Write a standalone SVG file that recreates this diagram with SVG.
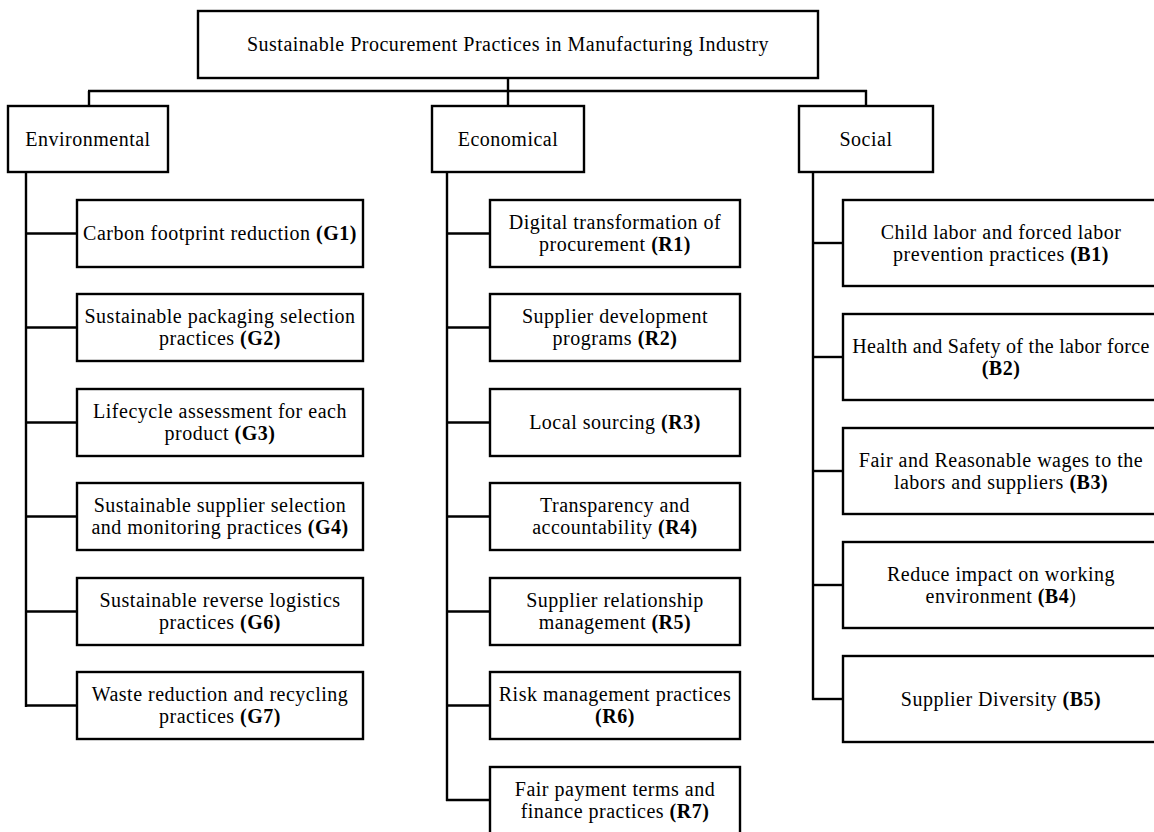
<svg xmlns="http://www.w3.org/2000/svg" width="1154" height="832" viewBox="0 0 1154 832">
<style>
rect{fill:#fff;stroke:#000;stroke-width:2.4}
.c line{stroke:#000;stroke-width:2.4}
text{font-family:"Liberation Serif","Times New Roman",serif;font-size:20px;fill:#000;text-anchor:middle;letter-spacing:0.5px}
.b{font-weight:bold}
</style>
<rect x="0" y="0" width="1154" height="832" style="stroke:none"/>
<g class="c" id="connectors">
<line x1="508" y1="78" x2="508" y2="91"/>
<line x1="88" y1="91" x2="867" y2="91"/>
<line x1="89" y1="91" x2="89" y2="106"/>
<line x1="508" y1="91" x2="508" y2="106"/>
<line x1="866" y1="90" x2="866" y2="106"/>
<line x1="26" y1="172" x2="26" y2="707"/>
<line x1="25" y1="233.5" x2="77" y2="233.5"/>
<line x1="25" y1="327.5" x2="77" y2="327.5"/>
<line x1="25" y1="422.5" x2="77" y2="422.5"/>
<line x1="25" y1="516.5" x2="77" y2="516.5"/>
<line x1="25" y1="611.5" x2="77" y2="611.5"/>
<line x1="25" y1="705.5" x2="77" y2="705.5"/>
<line x1="447" y1="172" x2="447" y2="801"/>
<line x1="446" y1="233.5" x2="490" y2="233.5"/>
<line x1="446" y1="327.5" x2="490" y2="327.5"/>
<line x1="446" y1="422.5" x2="490" y2="422.5"/>
<line x1="446" y1="516.5" x2="490" y2="516.5"/>
<line x1="446" y1="611.5" x2="490" y2="611.5"/>
<line x1="446" y1="705.5" x2="490" y2="705.5"/>
<line x1="446" y1="800" x2="490" y2="800"/>
<line x1="813" y1="172" x2="813" y2="700"/>
<line x1="812" y1="243" x2="843" y2="243"/>
<line x1="812" y1="357" x2="843" y2="357"/>
<line x1="812" y1="471" x2="843" y2="471"/>
<line x1="812" y1="585" x2="843" y2="585"/>
<line x1="812" y1="699" x2="843" y2="699"/>
</g>
<g id="title"><rect x="198" y="11" width="620" height="67"/><text x="508" y="51">Sustainable Procurement Practices in Manufacturing Industry</text></g>
<g id="environmental"><rect x="8" y="106" width="160" height="66"/><text x="88" y="145.5">Environmental</text></g>
<g id="economical"><rect x="432" y="106" width="152" height="66"/><text x="508" y="145.5">Economical</text></g>
<g id="social"><rect x="799" y="106" width="134" height="66"/><text x="866" y="145.5">Social</text></g>

<g id="G1"><rect x="77" y="200" width="286" height="67"/><text x="220" y="240">Carbon footprint reduction <tspan class="b">(G1)</tspan></text></g>
<g id="G2"><rect x="77" y="294" width="286" height="67"/><text x="220" y="322.5">Sustainable packaging selection</text><text x="220" y="344.5">practices <tspan class="b">(G2)</tspan></text></g>
<g id="G3"><rect x="77" y="389" width="286" height="67"/><text x="220" y="417.5">Lifecycle assessment for each</text><text x="220" y="439.5">product <tspan class="b">(G3)</tspan></text></g>
<g id="G4"><rect x="77" y="483" width="286" height="67"/><text x="220" y="511.5">Sustainable supplier selection</text><text x="220" y="533.5">and monitoring practices <tspan class="b">(G4)</tspan></text></g>
<g id="G6"><rect x="77" y="578" width="286" height="67"/><text x="220" y="606.5">Sustainable reverse logistics</text><text x="220" y="628.5">practices <tspan class="b">(G6)</tspan></text></g>
<g id="G7"><rect x="77" y="672" width="286" height="67"/><text x="220" y="700.5">Waste reduction and recycling</text><text x="220" y="722.5">practices <tspan class="b">(G7)</tspan></text></g>

<g id="R1"><rect x="490" y="200" width="250" height="67"/><text x="615" y="228.5">Digital transformation of</text><text x="615" y="250.5">procurement <tspan class="b">(R1)</tspan></text></g>
<g id="R2"><rect x="490" y="294" width="250" height="67"/><text x="615" y="322.5">Supplier development</text><text x="615" y="344.5">programs <tspan class="b">(R2)</tspan></text></g>
<g id="R3"><rect x="490" y="389" width="250" height="67"/><text x="615" y="429">Local sourcing <tspan class="b">(R3)</tspan></text></g>
<g id="R4"><rect x="490" y="483" width="250" height="67"/><text x="615" y="511.5">Transparency and</text><text x="615" y="533.5">accountability <tspan class="b">(R4)</tspan></text></g>
<g id="R5"><rect x="490" y="578" width="250" height="67"/><text x="615" y="606.5">Supplier relationship</text><text x="615" y="628.5">management <tspan class="b">(R5)</tspan></text></g>
<g id="R6"><rect x="490" y="672" width="250" height="67"/><text x="615" y="700.5">Risk management practices</text><text x="615" y="722.5" class="b">(R6)</text></g>
<g id="R7"><rect x="490" y="767" width="250" height="72"/><text x="615" y="795.5">Fair payment terms and</text><text x="615" y="817.5">finance practices <tspan class="b">(R7)</tspan></text></g>

<g id="B1"><rect x="843" y="200" width="316" height="86"/><text x="1001" y="239">Child labor and forced labor</text><text x="1001" y="260.5">prevention practices <tspan class="b">(B1)</tspan></text></g>
<g id="B2"><rect x="843" y="314" width="316" height="86"/><text x="1001" y="353" style="letter-spacing:0.3px">Health and Safety of the labor force</text><text x="1001" y="374.5" class="b">(B2)</text></g>
<g id="B3"><rect x="843" y="428" width="316" height="86"/><text x="1001" y="467">Fair and Reasonable wages to the</text><text x="1001" y="488.5">labors and suppliers <tspan class="b">(B3)</tspan></text></g>
<g id="B4"><rect x="843" y="542" width="316" height="86"/><text x="1001" y="581">Reduce impact on working</text><text x="1001" y="602.5">environment <tspan class="b">(B4</tspan>)</text></g>
<g id="B5"><rect x="843" y="656" width="316" height="86"/><text x="1001" y="705.5">Supplier Diversity <tspan class="b">(B5)</tspan></text></g>
</svg>
